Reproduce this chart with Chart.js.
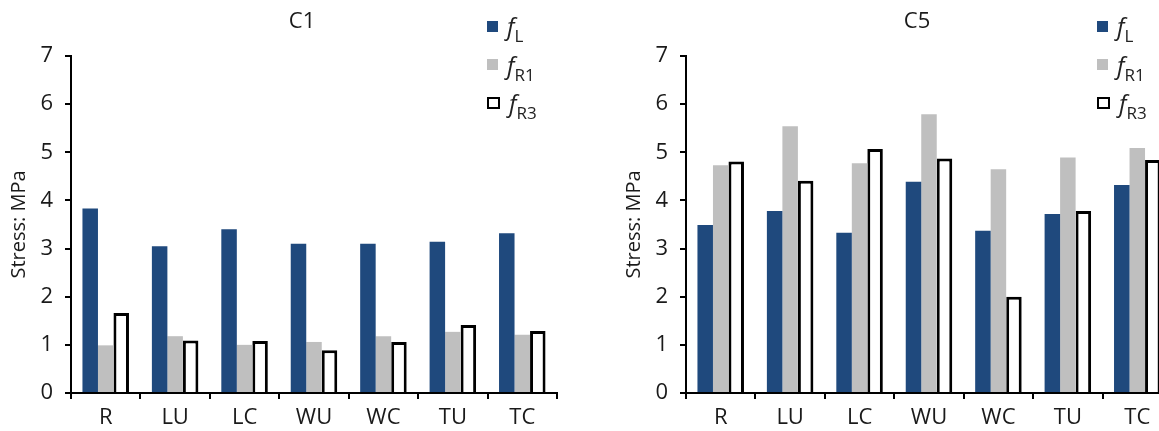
<!DOCTYPE html>
<html>
<head>
<meta charset="utf-8">
<script src="https://cdn.jsdelivr.net/npm/chart.js@4.4.1/dist/chart.umd.min.js"></script>
<style>
  html, body { margin: 0; padding: 0; background: #fff; overflow: hidden; width: 1159px; height: 431px; }
  canvas { position: absolute; top: 0; }
  #c1 { left: 0; }
  #c5 { left: 615px; }
  .legend { position: absolute; top: 7px; font-family: "Open Sans", sans-serif; color: #222; }
  .legend .row { height: 38.5px; display: flex; align-items: center; }
  .legend .box { width: 11px; height: 11px; box-sizing: border-box; margin-right: 9px; }
  .legend .lab { font-size: 24px; line-height: 24px; }
  .legend .lab i { font-style: italic; }
  .legend .lab sub { font-size: 17px; vertical-align: -7px; line-height: 0; }
</style>
</head>
<body>
<canvas id="c1" width="580" height="431"></canvas>
<canvas id="c5" width="580" height="431"></canvas>
<div class="legend" id="leg1" style="left:487px"></div>
<div class="legend" id="leg5" style="left:1097px"></div>
<script>
const categories = ["R", "LU", "LC", "WU", "WC", "TU", "TC"]
const seriesNames = ["L", "R1", "R3"]

// C1 panel
const c1FL = [3.83, 3.05, 3.40, 3.10, 3.10, 3.14, 3.32]
const c1FR1 = [0.99, 1.18, 1.00, 1.06, 1.18, 1.27, 1.21]
const c1FR3 = [1.66, 1.09, 1.08, 0.89, 1.06, 1.41, 1.29]

// C5 panel
const c5FL = [3.49, 3.78, 3.33, 4.39, 3.37, 3.72, 4.32]
const c5FR1 = [4.73, 5.54, 4.77, 5.79, 4.65, 4.89, 5.09]
const c5FR3 = [4.81, 4.41, 5.07, 4.87, 2.00, 3.78, 4.84]

const yTicks = [0, 1, 2, 3, 4, 5, 6, 7]

const fills = ["#1F497D", "#BFBFBF", "#FFFFFF"]
const borders = ["#1F497D", "#BFBFBF", "#000000"]
const borderWidths = [0, 0, 3]
const textColor = "#1a1a1a"
const fontFamily = "'Open Sans', sans-serif"

// title drawn over the whole panel (y axis area included), not just the plot area
const panelTitle = {
  id: "panelTitle",
  afterDraw(chart, args, opts) {
    const ctx = chart.ctx
    ctx.save()
    ctx.font = "22px " + fontFamily
    ctx.fillStyle = textColor
    ctx.textAlign = "center"
    ctx.textBaseline = "middle"
    ctx.fillText(opts.text, (chart.chartArea.left + chart.chartArea.right) / 2 + opts.dx, 22)
    ctx.restore()
  }
}

function makeChart(id, title, series) {
  const axisGrid = {
    display: true,
    drawOnChartArea: false,
    drawTicks: true,
    tickLength: 6,
    color: "#000",
    lineWidth: 2
  }
  return new Chart(document.getElementById(id), {
    type: "bar",
    data: {
      labels: categories,
      datasets: series.map((d, i) => ({
        label: "f" + seriesNames[i],
        data: d,
        backgroundColor: fills[i],
        borderColor: borders[i],
        borderWidth: borderWidths[i],
        categoryPercentage: 0.67,
        barPercentage: 1.0
      }))
    },
    options: {
      responsive: false,
      animation: false,
      layout: { padding: { top: 56, right: 23, left: 0, bottom: 0 } },
      plugins: {
        legend: { display: false },
        tooltip: { enabled: false },
        panelTitle: { text: title, dx: -12 }
      },
      scales: {
        x: {
          grid: axisGrid,
          border: { color: "#000", width: 2 },
          ticks: { color: textColor, font: { family: fontFamily, size: 22 }, padding: 6 },
          afterFit(scale) { scale.height = 38 }
        },
        y: {
          min: yTicks[0],
          max: yTicks[yTicks.length - 1],
          afterBuildTicks(scale) { scale.ticks = yTicks.map(v => ({ value: v })) },
          grid: axisGrid,
          border: { color: "#000", width: 2 },
          ticks: { color: textColor, font: { family: fontFamily, size: 22 }, padding: 12 },
          title: {
            display: true,
            text: "Stress: MPa",
            color: textColor,
            font: { family: fontFamily, size: 20 },
            padding: { top: 7, bottom: 0 }
          },
          afterFit(scale) { scale.width = 71 }
        }
      }
    },
    plugins: [panelTitle]
  })
}

function makeLegend(id) {
  const el = document.getElementById(id)
  seriesNames.forEach((name, i) => {
    const row = document.createElement("div")
    row.className = "row"
    const box = document.createElement("div")
    box.className = "box"
    box.style.background = fills[i]
    if (borderWidths[i] > 0) {
      box.style.border = "2.5px solid " + borders[i]
      box.style.width = "13px"
      box.style.height = "12px"
    }
    const lab = document.createElement("span")
    lab.className = "lab"
    lab.innerHTML = "<i>f</i><sub>" + name + "</sub>"
    row.appendChild(box)
    row.appendChild(lab)
    el.appendChild(row)
  })
}

makeChart("c1", "C1", [c1FL, c1FR1, c1FR3])
makeChart("c5", "C5", [c5FL, c5FR1, c5FR3])
makeLegend("leg1")
makeLegend("leg5")
</script>
</body>
</html>
